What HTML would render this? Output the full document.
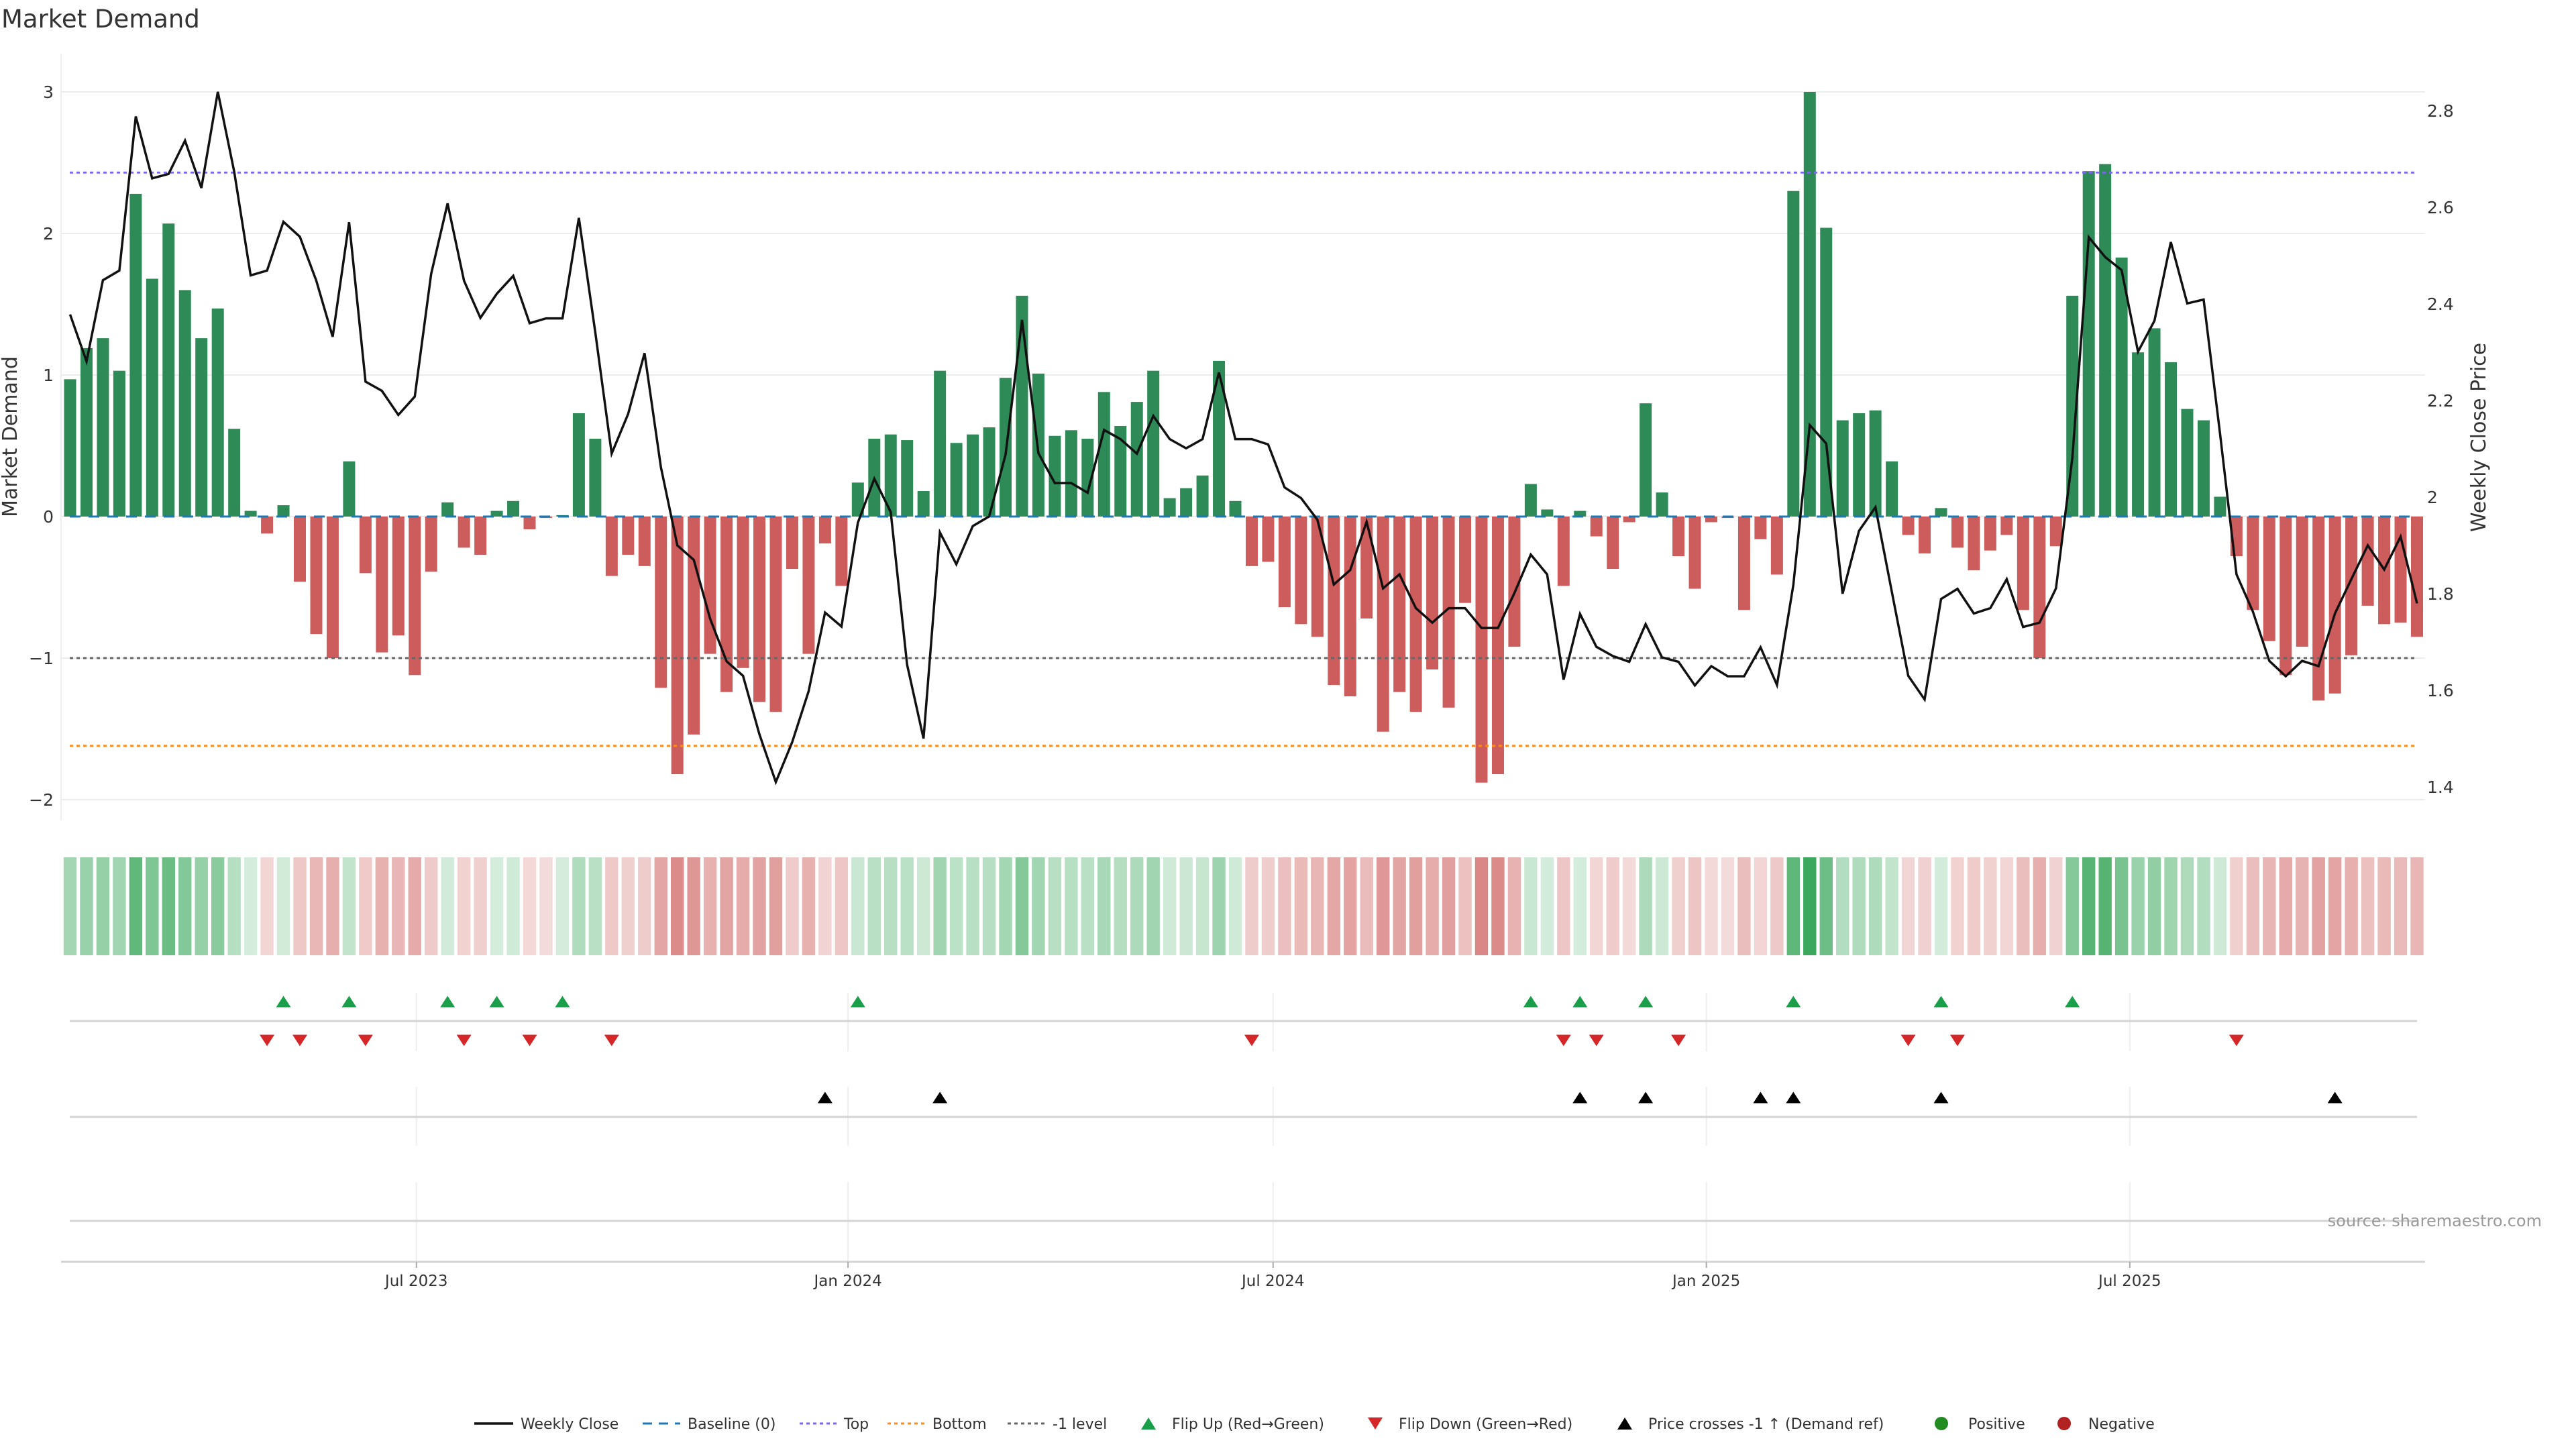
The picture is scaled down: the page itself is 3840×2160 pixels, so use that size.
<!DOCTYPE html>
<html><head><meta charset="utf-8">
<style>
html,body{margin:0;padding:0;background:#fff;}
svg{display:block;font-family:"DejaVu Sans","Liberation Sans",sans-serif;}
</style></head>
<body>
<svg id="chart" width="3840" height="2160" viewBox="0 0 3840 2160" xmlns="http://www.w3.org/2000/svg">
  <rect x="0" y="0" width="3840" height="2160" fill="#fff"/>
  <text x="2" y="41" font-size="37" fill="#333">Market Demand</text>
  <g id="grid"></g>
  <g id="bars"></g>
  <g id="refs"></g>
  <g id="price"></g>
  <g id="axes"></g>
  <g id="heat"></g>
  <g id="markers"></g>
  <g id="xaxis"></g>
  <text x="3789" y="1828" font-size="24" fill="#999" text-anchor="end">source: sharemaestro.com</text>
  <g id="legend"></g>
</svg>
<script>
// ---- data ----
const demand = [0.97,1.19,1.26,1.03,2.28,1.68,2.07,1.60,1.26,1.47,
0.62,0.04,-0.12,0.08,-0.46,-0.83,-1.00,0.39,-0.40,-0.96,
-0.84,-1.12,-0.39,0.10,-0.22,-0.27,0.04,0.11,-0.09,-0.01,
0.01,0.73,0.55,-0.42,-0.27,-0.35,-1.21,-1.82,-1.54,-0.97,
-1.24,-1.07,-1.31,-1.38,-0.37,-0.97,-0.19,-0.49,0.24,0.55,
0.58,0.54,0.18,1.03,0.52,0.58,0.63,0.98,1.56,1.01,
0.57,0.61,0.55,0.88,0.64,0.81,1.03,0.13,0.20,0.29,
1.10,0.11,-0.35,-0.32,-0.64,-0.76,-0.85,-1.19,-1.27,-0.72,
-1.52,-1.24,-1.38,-1.08,-1.35,-0.61,-1.88,-1.82,-0.92,0.23,
0.05,-0.49,0.04,-0.14,-0.37,-0.04,0.80,0.17,-0.28,-0.51,
-0.04,-0.01,-0.66,-0.16,-0.41,2.30,3.00,2.04,0.68,0.73,
0.75,0.39,-0.13,-0.26,0.06,-0.22,-0.38,-0.24,-0.13,-0.66,
-1.00,-0.21,1.56,2.44,2.49,1.83,1.16,1.33,1.09,0.76,
0.68,0.14,-0.28,-0.66,-0.88,-1.12,-0.92,-1.30,-1.25,-0.98,
-0.63,-0.76,-0.75,-0.85];
const price = [2.378,2.281,2.449,2.469,2.788,2.660,2.669,2.738,2.640,2.839,
2.674,2.459,2.469,2.570,2.539,2.448,2.332,2.569,2.239,2.220,
2.170,2.208,2.462,2.608,2.448,2.371,2.421,2.458,2.360,2.370,
2.370,2.578,2.341,2.090,2.172,2.298,2.062,1.900,1.870,1.748,
1.660,1.630,1.509,1.410,1.493,1.598,1.761,1.732,1.947,2.038,
1.969,1.653,1.500,1.927,1.861,1.940,1.960,2.088,2.367,2.091,
2.029,2.029,2.009,2.139,2.120,2.090,2.168,2.120,2.101,2.120,
2.258,2.120,2.120,2.109,2.020,1.998,1.953,1.819,1.849,1.949,
1.811,1.840,1.770,1.740,1.770,1.770,1.729,1.729,1.801,1.881,
1.840,1.622,1.758,1.690,1.671,1.659,1.737,1.668,1.659,1.610,
1.650,1.629,1.629,1.689,1.611,1.818,2.149,2.111,1.800,1.930,
1.979,1.804,1.630,1.581,1.789,1.810,1.759,1.770,1.830,1.731,
1.740,1.811,2.081,2.538,2.497,2.470,2.301,2.365,2.528,2.401,
2.409,2.131,1.840,1.763,1.661,1.629,1.661,1.650,1.759,1.830,
1.900,1.850,1.918,1.780];
const demandTicks = [3,2,1,0,-1,-2];
const demandTickLabels = ["3","2","1","0","\u22121","\u22122"];
const priceTicks = [2.8,2.6,2.4,2.2,2.0,1.8,1.6,1.4];
const priceTickLabels = ["2.8","2.6","2.4","2.2","2","1.8","1.6","1.4"];
const dateTickIdx = [21.1,47.4,73.3,99.7,125.5];
const dateTickLabels = ["Jul 2023","Jan 2024","Jul 2024","Jan 2025","Jul 2025"];
const topLevel = 2.43, bottomLevel = -1.62, minusLevel = -1, baseLevel = 0;

// ---- scales ----
const NS = "http://www.w3.org/2000/svg";
const X0 = 104.5, STEP = 24.465;
function xS(i){ return X0 + STEP*i; }
function yD(v){ return 770 - 211*v; }
function yP(p){ return 165 + (2.8 - p)/0.2*144; }
function pFromY(y){ return 2.8 - (y-165)/144*0.2; }
function mk(tag, attrs, parent){ const e=document.createElementNS(NS,tag); for(const k in attrs) e.setAttribute(k,attrs[k]); parent.appendChild(e); return e; }
const L = 91, R = 3615;

// grid
const grid = document.getElementById('grid');
demandTicks.forEach((t,k)=>{
  const ln = mk('line',{x1:L,x2:R,y1:yD(t),y2:yD(t),stroke:'#ececec','stroke-width':2},grid);
  
  
});

// bars
const bars = document.getElementById('bars');
demand.forEach((v,i)=>{
  const y0=yD(0), y1=yD(v);
  const r = mk('rect',{x:xS(i)-9,y:Math.min(y0,y1),width:18,height:Math.max(0.5,Math.abs(y1-y0)),fill:v>=0?'#2e8b57':'#cd5c5c'},bars);
  
  
});

// reference lines
const refs = document.getElementById('refs');
const refDefs = [[topLevel,'#7b68ee','5,5','top-line'],[minusLevel,'#666','5,5','minus-one-line'],[bottomLevel,'#ff8c1a','5,5','bottom-line'],[baseLevel,'#1f77b4','16,12','baseline-line']];
refDefs.forEach(d=>{
  const ln = mk('line',{x1:104,x2:3603,y1:yD(d[0]),y2:yD(d[0]),stroke:d[1],'stroke-width':3,'stroke-dasharray':d[2]},refs);
  
  
});

// price line
const pl = document.getElementById('price');
const pts = price.map((p,i)=>xS(i).toFixed(1)+','+yP(p).toFixed(1)).join(' ');
const poly = mk('polyline',{points:pts,fill:'none',stroke:'#111','stroke-width':3.5,'stroke-linejoin':'miter'},pl);



// axes
const ax = document.getElementById('axes');
const yl = mk('line',{x1:L,x2:L,y1:80,y2:1223,stroke:'#eee','stroke-width':2},ax);


demandTicks.forEach((t,k)=>{
  const tx = mk('text',{x:80,y:yD(t)+9,'font-size':25,fill:'#333','text-anchor':'end'},ax);
  tx.textContent = demandTickLabels[k];
  
  
});
priceTicks.forEach((t,k)=>{
  const tx = mk('text',{x:3618,y:yP(t)+9,'font-size':25,fill:'#333'},ax);
  tx.textContent = priceTickLabels[k];
  
  
});
const yt = mk('text',{x:0,y:0,'font-size':30,fill:'#333','text-anchor':'middle',transform:'translate(25,651) rotate(-90)'},ax);
yt.textContent='Market Demand';


const yt2 = mk('text',{x:0,y:0,'font-size':30,fill:'#333','text-anchor':'middle',transform:'translate(3705,652) rotate(-90)'},ax);
yt2.textContent='Weekly Close Price';



// heatmap
const heat = document.getElementById('heat');
const dmax = 3;
demand.forEach((v,i)=>{
  const a = Math.min(1, 0.2 + 0.75*Math.abs(v)/dmax);
  const base = v>=0 ? [49,163,84] : [200,78,76];
  const c = base.map(b=>Math.round(255*(1-a)+b*a));
  const r = mk('rect',{x:xS(i)-9.7,y:1278,width:19.4,height:146,fill:'rgb('+c.join(',')+')'},heat);
  
  
});

// x axis and panel lines
const xa = document.getElementById('xaxis');
[[1480,1567],[1620,1708],[1762,1880]].forEach(seg=>{
  dateTickIdx.forEach(ti=>{
    const g = mk('line',{x1:xS(ti),x2:xS(ti),y1:seg[0],y2:seg[1],stroke:'#eee','stroke-width':2},xa);
    
    
  });
});
[1522,1665,1820].forEach(y=>{
  const ln = mk('line',{x1:104,x2:3603,y1:y,y2:y,stroke:'#d4d4d4','stroke-width':3},xa);
  
  
});
const xl = mk('line',{x1:L,x2:R,y1:1881,y2:1881,stroke:'#d4d4d4','stroke-width':3},xa);


dateTickIdx.forEach((ti,k)=>{
  const tk = mk('line',{x1:xS(ti),x2:xS(ti),y1:1881,y2:1890,stroke:'#aaa','stroke-width':2},xa);
  
  
  const tx = mk('text',{x:xS(ti),y:1917,'font-size':23,fill:'#333','text-anchor':'middle'},xa);
  tx.textContent = dateTickLabels[k];
  
  
});

// markers
const mg = document.getElementById('markers');
function tri(cx,cy,up,color,name){
  const w=11,h=8.5;
  const p = up ? [[cx-w,cy+h],[cx+w,cy+h],[cx,cy-h]] : [[cx-w,cy-h],[cx+w,cy-h],[cx,cy+h]];
  const e = mk('polygon',{points:p.map(q=>q.join(',')).join(' '),fill:color},mg);
  
  
}
const crossLevel = pFromY(yD(minusLevel));
for(let i=1;i<demand.length;i++){
  if(demand[i]>0 && demand[i-1]<=0) tri(xS(i),1493,true,'#1a9e4a','flip-up-marker');
  if(demand[i]<0 && demand[i-1]>=0) tri(xS(i),1551,false,'#d62728','flip-down-marker');
  if(price[i]>crossLevel && price[i-1]<=crossLevel) tri(xS(i),1636,true,'#000','price-cross-marker');
}

// legend
const lg = document.getElementById('legend');
const LY = 2122;
function ltext(x,s,name){ const t=mk('text',{x:x,y:LY+8,'font-size':22,fill:'#333'},lg); t.textContent=s;   }
function lline(x1,x2,color,dash,w,name){ const l=mk('line',{x1:x1,x2:x2,y1:LY,y2:LY,stroke:color,'stroke-width':w,'stroke-dasharray':dash},lg);   }
lline(707,765,'#111','none',3.5,'legend-weekly-close-swatch'); ltext(776,'Weekly Close','legend-weekly-close');
lline(958,1014,'#1f77b4','14,10',3,'legend-baseline-swatch'); ltext(1025,'Baseline (0)','legend-baseline');
lline(1192,1248,'#7b68ee','5,5',3,'legend-top-swatch'); ltext(1258,'Top','legend-top');
lline(1323,1379,'#ff8c1a','5,5',3,'legend-bottom-swatch'); ltext(1390,'Bottom','legend-bottom');
lline(1502,1558,'#666','5,5',3,'legend-minus-one-swatch'); ltext(1569,'-1 level','legend-minus-one');
function ltri(cx,up,color,name){ const w=11,h=9; const p= up?[[cx-w,LY+h],[cx+w,LY+h],[cx,LY-h]]:[[cx-w,LY-h],[cx+w,LY-h],[cx,LY+h]]; const e=mk('polygon',{points:p.map(q=>q.join(',')).join(' '),fill:color},lg);   }
ltri(1712,true,'#1a9e4a','legend-flip-up-swatch'); ltext(1747,'Flip Up (Red\u2192Green)','legend-flip-up');
ltri(2050,false,'#d62728','legend-flip-down-swatch'); ltext(2085,'Flip Down (Green\u2192Red)','legend-flip-down');
ltri(2422,true,'#000','legend-price-cross-swatch'); ltext(2457,'Price crosses -1 \u2191 (Demand ref)','legend-price-cross');
const c1=mk('circle',{cx:2894,cy:LY,r:10,fill:'#228b22'},lg);  
ltext(2934,'Positive','legend-positive');
const c2=mk('circle',{cx:3077,cy:LY,r:10,fill:'#b22222'},lg);  
ltext(3113,'Negative','legend-negative');
</script>
</body></html>
